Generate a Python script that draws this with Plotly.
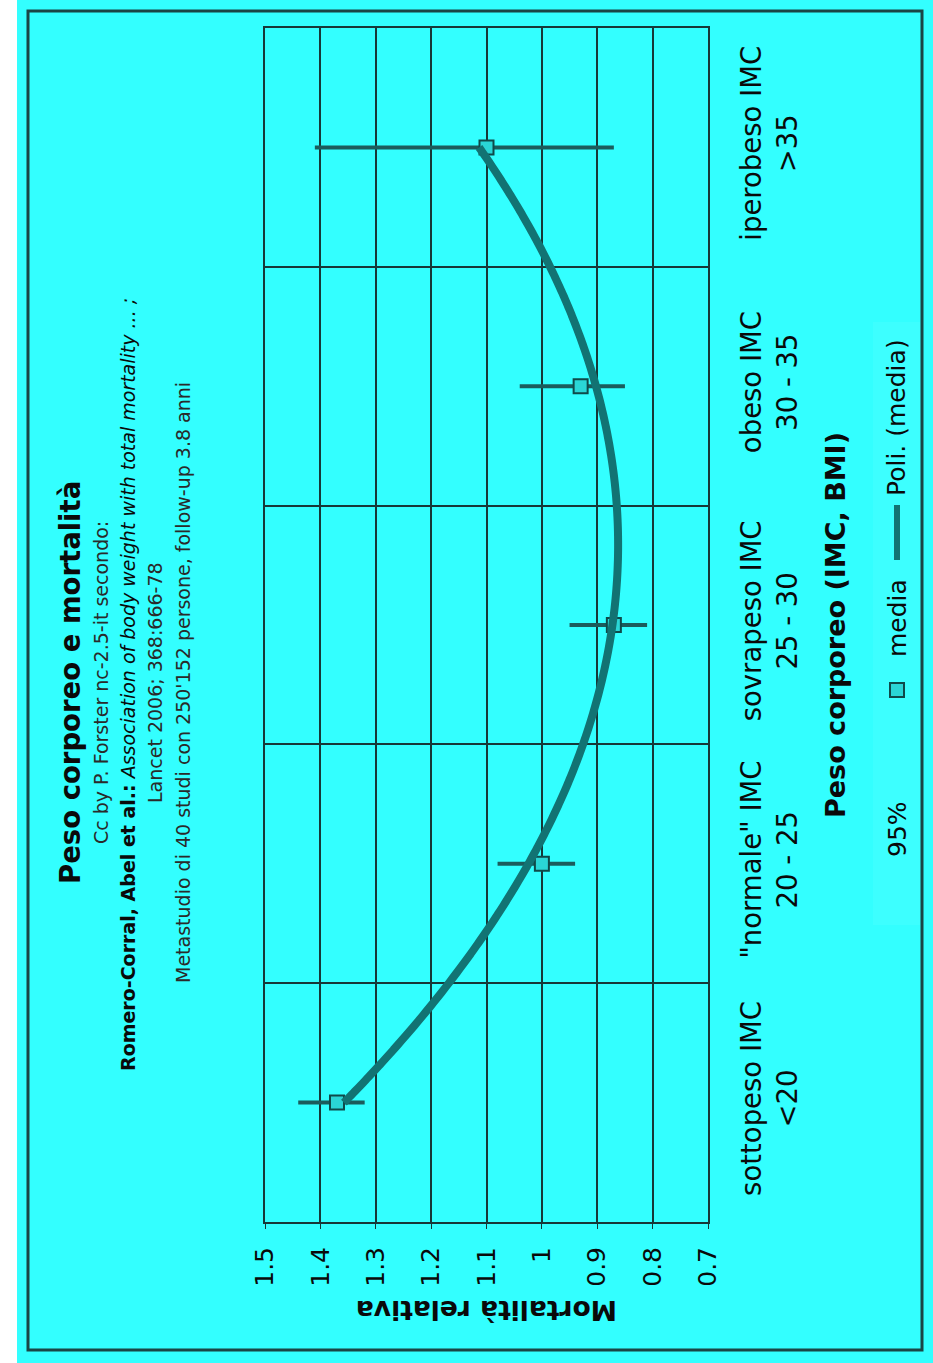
import numpy as np
import plotly.graph_objects as go

# ---------------- data ----------------
categories = ['sottopeso IMC<br>&lt;20', '"normale" IMC<br>20 - 25', 'sovrapeso IMC<br>25 - 30',
              'obeso IMC<br>30 - 35', 'iperobeso IMC<br>&gt;35']
means = [1.37, 1.00, 0.87, 0.93, 1.10]
ci_low = [1.32, 0.94, 0.81, 0.85, 0.87]
ci_high = [1.44, 1.08, 0.95, 1.04, 1.41]
value_ticks = [1.5, 1.4, 1.3, 1.2, 1.1, 1.0, 0.9, 0.8, 0.7]
value_ticktext = ['1.5', '1.4', '1.3', '1.2', '1.1', '1', '0.9', '0.8', '0.7']

# ---------------- layout constants ----------------
W, H = 933, 1363
L, R, T, B = 265, 708, 28, 1222
BG = '#33FFFF'
GRID = '#173838'
TEAL = '#127373'
ERR = '#1B5C5C'
FONT = 'DejaVu Sans'
TXT = '#0A0A0A'


def fx(px):
    return (px - L) / (R - L)


def fy(py):
    return (B - py) / (B - T)


pos = list(range(len(categories)))
err_plus = [h - m for h, m in zip(ci_high, means)]
err_minus = [m - l for m, l in zip(means, ci_low)]

# polynomial (order 2) trendline of the means
coef = np.polyfit(pos, means, 2)
tpos = np.linspace(pos[0], pos[-1], 200)
tval = np.polyval(coef, tpos)

fig = go.Figure()
fig.add_trace(go.Scatter(
    x=means, y=pos, mode='markers', name='media',
    marker=dict(symbol='square', size=14, color='#2AD6D6', line=dict(color='#0F4A4A', width=2)),
    error_x=dict(type='data', symmetric=False, array=err_plus, arrayminus=err_minus,
                 color=ERR, thickness=4, width=0),
    showlegend=False, cliponaxis=False))
fig.add_trace(go.Scatter(
    x=tval, y=tpos, mode='lines', name='Poli. (media)',
    line=dict(color=TEAL, width=8, simplify=False, shape='spline'), showlegend=False))

annotations = []


def ann(text, px, py, size, angle=-90, color=TXT):
    annotations.append(dict(text=text, x=fx(px), y=fy(py), xref='paper', yref='paper',
                            showarrow=False, textangle=angle, xanchor='center', yanchor='middle',
                            font=dict(family=FONT, size=size, color=color)))


ann('<b>Peso corporeo e mortalità</b>', 70, 683, 27.5)
ann('Cc by P. Forster nc-2.5-it secondo:', 101, 683, 19, color='#2A2A2A')
ann('<b>Romero-Corral, Abel et al.:</b> <i>Association of body weight with total mortality ... ;</i>',
    128, 685, 19)
ann('Lancet 2006; 368:666-78', 155, 683, 19, color='#2A2A2A')
ann("Metastudio di 40 studi con 250'152 persone, follow-up 3.8 anni", 183, 683, 19, color='#2A2A2A')
ann('<b>Mortalità relativa</b>', 487, 1311, 26.5, angle=180)
ann('<b>Peso corporeo (IMC, BMI)</b>', 835, 625, 27)
ann('95%', 897, 829, 25)
ann('media', 897, 618, 25)
ann('Poli. (media)', 897, 418, 25)

shapes = [
    # white strip at far left
    dict(type='rect', xref='paper', yref='paper', x0=fx(0), x1=fx(17), y0=fy(H), y1=fy(0),
         fillcolor='white', line=dict(width=0), layer='below'),
    # legend box (slightly lighter)
    dict(type='rect', xref='paper', yref='paper', x0=fx(873), x1=fx(920), y0=fy(925), y1=fy(322),
         fillcolor='#3DFFFF', line=dict(width=0), layer='below'),
    # outer border
    dict(type='rect', xref='paper', yref='paper', x0=fx(28), x1=fx(922), y0=fy(1350), y1=fy(11),
         fillcolor='rgba(0,0,0,0)', line=dict(color='#1A4545', width=3), layer='below'),
    # legend symbols
    dict(type='rect', xref='paper', yref='paper', x0=fx(890), x1=fx(904), y0=fy(697), y1=fy(683),
         fillcolor='#2AD6D6', line=dict(color='#0F4A4A', width=2)),
    dict(type='line', xref='paper', yref='paper', x0=fx(897), x1=fx(897), y0=fy(560), y1=fy(505),
         line=dict(color=TEAL, width=6)),
]

fig.update_layout(
    width=W, height=H,
    margin=dict(l=L, r=W - R, t=T, b=H - B),
    paper_bgcolor=BG, plot_bgcolor=BG,
    annotations=annotations, shapes=shapes,
    showlegend=False,
    xaxis=dict(range=[1.5, 0.7], tickvals=value_ticks, ticktext=value_ticktext, tickangle=-90,
               showgrid=True, gridcolor=GRID, gridwidth=2, zeroline=False,
               showline=True, linecolor=GRID, linewidth=2, mirror=True,
               ticks='outside', ticklen=5, tickcolor=GRID, tickwidth=1, ticklabelstandoff=8,
               tickfont=dict(family=FONT, size=25, color=TXT)),
    yaxis=dict(range=[-0.5, 4.5], tickvals=pos, ticktext=categories, tickangle=-90, side='right',
               showgrid=False, zeroline=False, showline=True, linecolor=GRID, linewidth=2, mirror=True,
               ticks='', ticklabelstandoff=18,
               minor=dict(tickmode='array', tickvals=[p + 0.5 for p in pos[:-1]], showgrid=True,
                          gridcolor=GRID, gridwidth=2, ticks=''),
               tickfont=dict(family=FONT, size=27.5, color=TXT)),
)

fig.write_html('out.html')
